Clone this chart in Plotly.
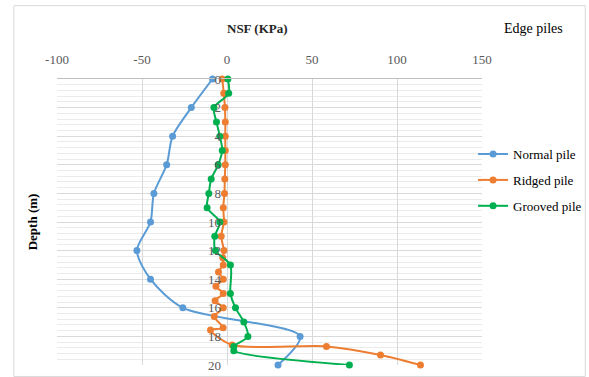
import plotly.graph_objects as go

# ---- data ----
normal_depth = [0, 2, 4, 6, 8, 10, 12, 14, 16, 18, 20]
normal_nsf = [-8.5, -21, -32, -35.5, -43, -45, -53, -45, -26, 43, 30]

ridged_depth = [0, 1, 2, 3, 4, 5, 6, 7, 8, 9, 10, 11, 12, 12.5, 13, 13.5, 14, 14.5,
                15, 15.5, 16, 16.6, 17.4, 17.55, 18.6, 18.7, 19.3, 20]
ridged_nsf = [-2.8, -1.9, -1.2, -1, -1, -1, -1, -1.3, -1.5, -2.2, -1.8, -3.4, -1.8, -2.5,
              -2.2, -5, -2.2, -6.5, -2.2, -7, -2.2, -7.5, -2.3, -9.7, 3, 58.5, 90.3, 113.8]

grooved_depth = [0, 1, 2, 3, 4, 5, 6, 7, 8, 9, 10, 11, 12, 13, 15, 16, 17, 18, 18.7, 19, 20]
grooved_nsf = [0.5, 1, -7.7, -6.2, -4.2, -2.8, -5.2, -9.3, -10.7, -11.7, -4.2, -7.2, -6.8,
               2, 2, 5, 9.9, 12.3, 4, 4, 72]

x_ticks = [-100, -50, 0, 50, 100, 150]
y_ticks = [0, 2, 4, 6, 8, 10, 12, 14, 16, 18, 20]

FONT = "Liberation Serif"

fig = go.Figure()
series = [
    ("Normal pile", normal_nsf, normal_depth, "#5B9BD5"),
    ("Ridged pile", ridged_nsf, ridged_depth, "#ED7D31"),
    ("Grooved pile", grooved_nsf, grooved_depth, "#00B050"),
]
for i, (name, xs, ys, col) in enumerate(series):
    fig.add_trace(go.Scatter(
        x=xs, y=ys, name=name, mode="lines+markers",
        line=dict(color=col, width=2, shape="spline", smoothing=0.8),
        marker=dict(color=col, size=7),
        cliponaxis=False, legendgroup=f"g{i}",
    ))

PW, PH = 425.6, 286.5
fig.update_layout(
    width=589, height=377,
    margin=dict(l=57, r=107, t=79, b=12, autoexpand=False),
    paper_bgcolor="white", plot_bgcolor="white",
    font=dict(family=FONT, color="#404040", size=13),
    showlegend=True,
    legend=dict(x=0.979, xanchor="left", y=0.79, yanchor="top",
                font=dict(family=FONT, size=13, color="#000000"),
                itemwidth=30, tracegroupgap=6, traceorder="grouped",
                bgcolor="rgba(0,0,0,0)"),
    xaxis=dict(
        side="top", range=[-100, 150], tickvals=x_ticks,
        ticktext=[str(v) for v in x_ticks],
        showgrid=True, gridcolor="#D9D9D9", gridwidth=1, zeroline=False,
        showline=True, linecolor="#BFBFBF", linewidth=1, mirror=False,
        ticks="", ticklabelstandoff=9, automargin=False,
        tickfont=dict(family=FONT, size=13, color="#595959"),
    ),
    yaxis=dict(
        range=[20, 0], tickvals=y_ticks, ticktext=[str(v) for v in y_ticks],
        showgrid=True, gridcolor="#D9D9D9", gridwidth=1, zeroline=False,
        minor=dict(dtick=0.4, showgrid=True, gridcolor="#EBEBEB", gridwidth=1),
        anchor="free", position=0.4, showline=False, automargin=False,
        ticks="", ticklabelstandoff=6,
        tickfont=dict(family=FONT, size=13, color="#595959"),
    ),
    shapes=[dict(type="rect", xref="paper", yref="paper",
                 x0=-0.1015, x1=1.243, y0=-0.04, y1=1.2565,
                 line=dict(color="#D9D9D9", width=1), fillcolor="rgba(0,0,0,0)")],
    annotations=[
        dict(text="<b>NSF (KPa)</b>", xref="paper", yref="paper",
             x=(258 - 57) / PW, y=(365 - 28) / PH, showarrow=False,
             xanchor="center", yanchor="middle",
             font=dict(family=FONT, size=13, color="#262626")),
        dict(text="Edge piles", xref="paper", yref="paper",
             x=(534 - 57) / PW, y=(365 - 28) / PH, showarrow=False,
             xanchor="center", yanchor="middle",
             font=dict(family=FONT, size=14, color="#000000")),
        dict(text="<b>Depth (m)</b>", xref="paper", yref="paper",
             x=(32 - 57) / PW, y=(365 - 222) / PH, textangle=-90, showarrow=False,
             xanchor="center", yanchor="middle",
             font=dict(family=FONT, size=13, color="#000000")),
    ],
)

fig.write_html("out.html", config={"displayModeBar": False},
               post_script="document.body.style.margin='0';document.body.style.padding='0';")
